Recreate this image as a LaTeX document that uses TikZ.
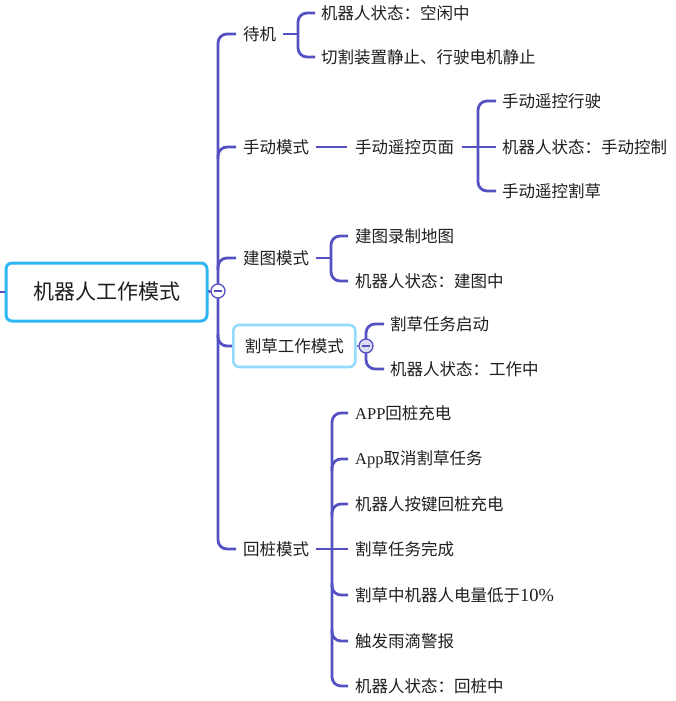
\documentclass[tikz,border=0pt]{standalone}
\usepackage{fontspec}
\setmainfont{Noto Sans CJK SC}
\newfontfamily\lat{Liberation Serif}
\usetikzlibrary{calc}
\definecolor{ln}{HTML}{5452C2}
\definecolor{rootb}{HTML}{2EB6F4}
\definecolor{subb}{HTML}{94DAFB}
\definecolor{txt}{HTML}{1E1E1E}
\definecolor{btnfill}{HTML}{DCDCF2}
\begin{document}
\begin{tikzpicture}[x=1pt,y=-1pt,
  lbl/.style={anchor=west,inner sep=0pt,text=txt,font=\fontsize{16.5}{20}\selectfont},
  conn/.style={draw=ln,line width=2.8pt,rounded corners=9pt},
  btn/.style={circle,draw=ln,line width=1.3pt,minimum size=14pt,inner sep=0pt},
  rootbox/.style={draw=rootb,line width=3pt,rounded corners=6pt,minimum width=201pt,minimum height=58pt,inner sep=0pt,text=txt,font=\fontsize{21}{25}\selectfont},
  subbox/.style={draw=subb,line width=2.6pt,rounded corners=6pt,minimum width=122pt,minimum height=42pt,inner sep=0pt,text=txt,font=\fontsize{16.5}{20}\selectfont}]
\useasboundingbox (0,0) rectangle (675,701);

% root
\node[rootbox] (root) at (106.5,292) {机器人工作模式};
\coordinate (lstub) at (0,292);
\draw[ln,line width=2.8pt] (lstub) -- (root.west);

% level 1
\node[lbl] (n1) at (243,34) {待机};
\node[lbl] (n2) at (243,147) {手动模式};
\node[lbl] (n3) at (243,258) {建图模式};
\node[subbox,anchor=west] (n4) at (232,346) {割草工作模式};
\node[lbl] (n5) at (243,549) {回桩模式};

\coordinate (tk) at (218,0);
\draw[conn] ($(n1.west)+(-7,0)$) -| (tk |- n5.west) -- ($(n5.west)+(-7,0)$);
\draw[conn] ($(tk |- n2.west)+(0,12)$) |- ($(n2.west)+(-7,0)$);
\draw[conn] ($(tk |- n3.west)+(0,12)$) |- ($(n3.west)+(-7,0)$);
\draw[conn] ($(tk |- n4.west)+(0,-12)$) |- (n4.west);

\node[btn,fill=white] (c1) at (218,291) {};
\draw[ln,line width=2.8pt] (root.east) -- (c1.west);
\draw[ln,line width=1.3pt] ($(c1.west)+(3.5,0)$) -- ($(c1.east)+(-3.5,0)$);

% 待机
\node[lbl] (a1) at (321,13) {机器人状态：空闲中};
\node[lbl] (a2) at (321,57) {切割装置静止、行驶电机静止};
\coordinate (b1) at (298,34);
\draw[conn] ($(n1.east)+(7,0)$) -- (b1);
\draw[conn] ($(a1.west)+(-6,0)$) -| (b1 |- a2.west) -- ($(a2.west)+(-6,0)$);

% 手动模式
\node[lbl] (m1) at (355,147) {手动遥控页面};
\draw[conn] ($(n2.east)+(7,0)$) -- ($(m1.west)+(-8,0)$);
\node[lbl] (p1) at (502,101) {手动遥控行驶};
\node[lbl] (p2) at (502,147) {机器人状态：手动控制};
\node[lbl] (p3) at (502,191) {手动遥控割草};
\coordinate (b2) at (478,147);
\draw[conn] ($(m1.east)+(8,0)$) -- ($(p2.west)+(-6,0)$);
\draw[conn] ($(p1.west)+(-6,0)$) -| (b2 |- p3.west) -- ($(p3.west)+(-6,0)$);

% 建图模式
\node[lbl] (q1) at (355,236) {建图录制地图};
\node[lbl] (q2) at (355,281) {机器人状态：建图中};
\coordinate (b3) at (331,258);
\draw[conn] ($(n3.east)+(7,0)$) -- (b3);
\draw[conn] ($(q1.west)+(-7,0)$) -| (b3 |- q2.west) -- ($(q2.west)+(-7,0)$);

% 割草工作模式
\node[lbl] (r1) at (390,324) {割草任务启动};
\node[lbl] (r2) at (390,369) {机器人状态：工作中};
\coordinate (b4) at (366,346);
\draw[conn] ($(r1.west)+(-6,0)$) -| (b4 |- r2.west) -- ($(r2.west)+(-6,0)$);
\node[btn,fill=btnfill] (c2) at (b4) {};
\draw[ln,line width=2.8pt] (n4.east) -- (c2.west);
\draw[ln,line width=1.3pt] ($(c2.west)+(3.5,0)$) -- ($(c2.east)+(-3.5,0)$);

% 回桩模式
\node[lbl] (s1) at (355,413) {{\lat APP}回桩充电};
\node[lbl] (s2) at (355,459) {{\lat App}取消割草任务};
\node[lbl] (s3) at (355,504) {机器人按键回桩充电};
\node[lbl] (s4) at (355,549) {割草任务完成};
\node[lbl] (s5) at (355,595) {割草中机器人电量低于{\lat\fontsize{18.5}{20}\selectfont 10\%}};
\node[lbl] (s6) at (355,641) {触发雨滴警报};
\node[lbl] (s7) at (355,686) {机器人状态：回桩中};
\coordinate (b5) at (332,549);
\draw[conn] ($(n5.east)+(7,0)$) -- ($(s4.west)+(-7,0)$);
\draw[conn] ($(s1.west)+(-7,0)$) -| (b5 |- s7.west) -- ($(s7.west)+(-7,0)$);
\draw[conn] ($(b5 |- s2.west)+(0,12)$) |- ($(s2.west)+(-7,0)$);
\draw[conn] ($(b5 |- s3.west)+(0,12)$) |- ($(s3.west)+(-7,0)$);
\draw[conn] ($(b5 |- s5.west)+(0,-12)$) |- ($(s5.west)+(-7,0)$);
\draw[conn] ($(b5 |- s6.west)+(0,-12)$) |- ($(s6.west)+(-7,0)$);
\end{tikzpicture}
\end{document}
